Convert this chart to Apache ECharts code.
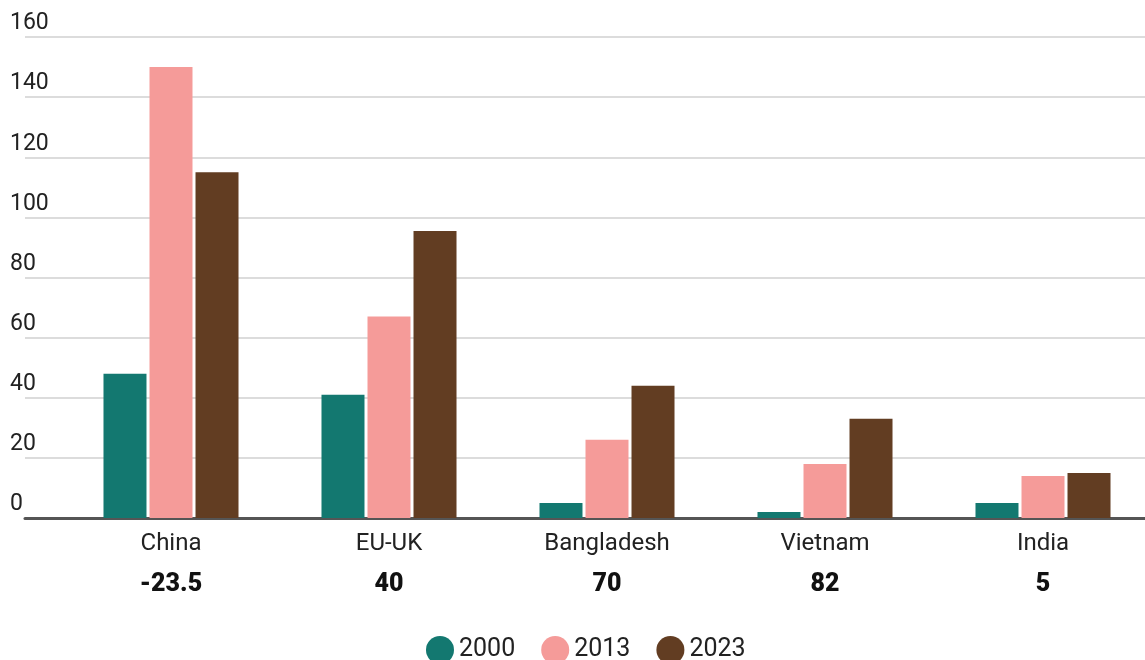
<!DOCTYPE html>
<html>
<head>
<meta charset="utf-8">
<script src="https://cdn.jsdelivr.net/npm/echarts@6/dist/echarts.min.js"></script>
<style>html,body{margin:0;padding:0;background:#fff;}#c{width:1145px;height:660px;}</style>
</head>
<body>
<div id="c"></div>
<script>
const categories = ['China', 'EU-UK', 'Bangladesh', 'Vietnam', 'India'];
const changeLabels = ['-23.5', '40', '70', '82', '5'];
const seriesNames = ['2000', '2013', '2023'];
const values2000 = [48, 41, 5, 2, 5];
const values2013 = [150, 67, 26, 18, 14];
const values2023 = [115, 95.5, 44, 33, 15];
const yTicks = [0, 20, 40, 60, 80, 100, 120, 140, 160];

const colors = ['#137870', '#f59b99', '#623d22'];
const FONT = 'Roboto';

const chart = echarts.init(document.getElementById('c'), null, {renderer: 'canvas'});
const seriesData = [values2000, values2013, values2023];

chart.setOption({
  animation: false,
  textStyle: {fontFamily: FONT},
  grid: [
    {left: 25, right: 0, top: 37, bottom: 142, outerBoundsMode: 'none'},
    {left: 62, width: 1090, top: 37, bottom: 142, outerBoundsMode: 'none', containLabel: false}
  ],
  legend: {
    data: seriesNames,
    left: 421, top: 631,
    icon: 'circle', itemWidth: 28, itemHeight: 28, itemGap: 26,
    textStyle: {fontSize: 25, color: '#222', fontFamily: FONT}
  },
  xAxis: [
    {
      gridIndex: 0, type: 'value', min: 0, max: 1,
      axisLine: {show: true, lineStyle: {color: '#555', width: 3}},
      axisTick: {show: false}, axisLabel: {show: false}, splitLine: {show: false}
    },
    {
      gridIndex: 1, type: 'category', data: categories,
      axisLine: {show: false}, axisTick: {show: false},
      axisLabel: {
        margin: 10,
        formatter: function (v, i) { return '{n|' + v + '}\n{v|' + changeLabels[i] + '}'; },
        rich: {
          n: {fontSize: 24, color: '#222', fontFamily: FONT, lineHeight: 32},
          v: {fontSize: 25, fontWeight: 900, color: '#111', fontFamily: FONT, lineHeight: 50}
        }
      }
    }
  ],
  yAxis: [
    {
      gridIndex: 0, type: 'value', min: yTicks[0], max: yTicks[yTicks.length - 1], interval: 20,
      axisLine: {show: false}, axisTick: {show: false},
      axisLabel: {
        align: 'left', verticalAlign: 'bottom', margin: 15,
        fontSize: 23, color: '#222', fontFamily: FONT, padding: [0, 0, 2, 0]
      },
      splitLine: {show: true, lineStyle: {color: '#dcdcdc', width: 2}}
    },
    {
      gridIndex: 1, type: 'value', min: yTicks[0], max: yTicks[yTicks.length - 1], interval: 20,
      show: false, splitLine: {show: false}
    }
  ],
  series: seriesNames.map(function (name, k) {
    return {
      name: name, type: 'bar', xAxisIndex: 1, yAxisIndex: 1,
      data: seriesData[k], barWidth: 43, barGap: '7%',
      itemStyle: {color: colors[k]}
    };
  })
});
</script>
</body>
</html>
